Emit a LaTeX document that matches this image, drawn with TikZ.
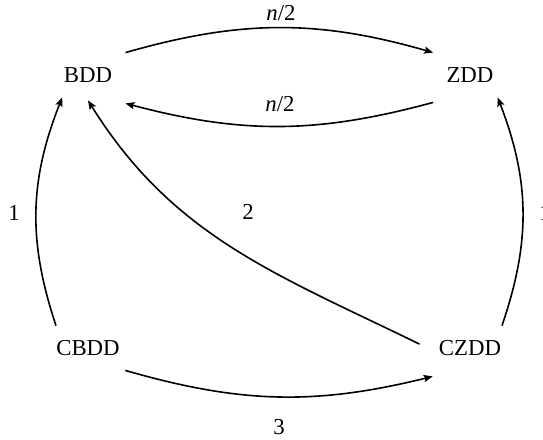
\documentclass[tikz,border=0pt]{standalone}
\usepackage{fontspec}
\setmainfont{Liberation Serif}
\usetikzlibrary{arrows.meta}

\begin{document}
\begin{tikzpicture}[x=0.5pt, y=-0.5pt,
      dd/.style={rectangle, inner xsep=6.5pt, inner ysep=0pt, minimum height=22pt, font=\fontsize{11.4}{13}\selectfont},
      lbl/.style={inner sep=0pt, font=\fontsize{11.4}{13}\selectfont},
      arr/.style={-{Stealth[length=4.5pt, width=3.6pt, inset=0.8pt]}, line width=0.8pt}]
    \useasboundingbox (0,0) rectangle (543,440);
    \node[dd] (bdd) at (88,75) {BDD};
    \node[dd] (zdd) at (470,75) {ZDD};
    \node[dd] (cbdd) at (88,348) {CBDD};
    \node[dd] (czdd) at (470,348) {CZDD};
    \node[lbl] (ntop) at (281,13) {\textit{n}/2};
    \node[lbl] (nmid) at (280,104) {\textit{n}/2};
    \node[lbl] (oneleft) at (14,213) {1};
    \node[lbl] (oneright) at (545,213) {1};
    \node[lbl] (two) at (248,212) {2};
    \node[lbl] (three) at (279,427) {3};
    \draw[arr] (bdd.north east) to[bend left=16] (zdd.north west);
    \draw[arr] ([yshift=-2.5pt]zdd.south west) to[bend left=15] ([yshift=-3pt]bdd.south east);
    \draw[arr] (cbdd.145) to[bend left=20] (bdd.221);
    \draw[arr] (czdd.35) to[bend right=20] (zdd.-39);
    \draw[arr] ([xshift=-3pt]czdd.175) to[out=154, in=-58] ([yshift=-1.5pt]bdd.south);
    \draw[arr] (cbdd.-31) to[bend right=15] ([yshift=-3pt]czdd.-149);
  \end{tikzpicture}
\end{document}
